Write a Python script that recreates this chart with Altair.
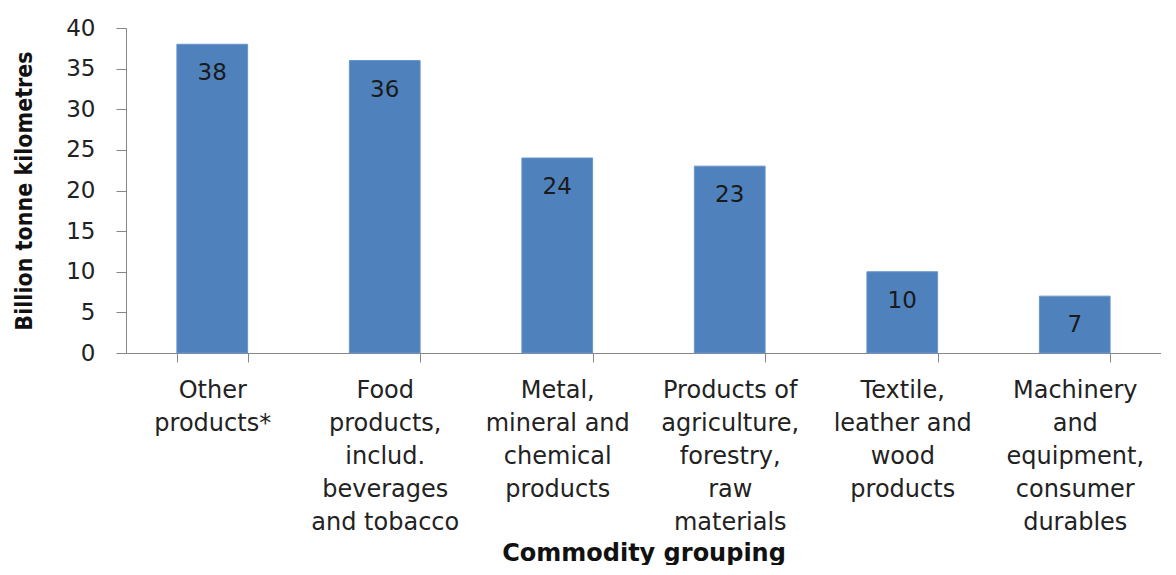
import altair as alt
import pandas as pd

categories = [
    "Other|products*",
    "Food|products,|includ.|beverages|and tobacco",
    "Metal,|mineral and|chemical|products",
    "Products of|agriculture,|forestry,|raw|materials",
    "Textile,|leather and|wood|products",
    "Machinery|and|equipment,|consumer|durables",
]
values = [38, 36, 24, 23, 10, 7]

df = pd.DataFrame({"cat": categories, "val": values})

x = alt.X(
    "cat:N",
    sort=categories,
    scale=alt.Scale(paddingInner=0.59, paddingOuter=0.295),
    axis=alt.Axis(
        title="Commodity grouping",
        labelExpr="split(datum.label, '|')",
        labelAngle=0,
        labelFont="DejaVu Sans",
        labelFontSize=24,
        labelLineHeight=33,
        labelColor="#222222",
        labelPadding=16,
        labelLimit=300,
        tickBand="extent",
        tickSize=9,
        tickColor="#868686",
        domainColor="#868686",
        titleFont="DejaVu Sans",
        titleFontSize=24,
        titleFontWeight="bold",
        titleColor="#111111",
        titlePadding=7,
    ),
)

y = alt.Y(
    "val:Q",
    scale=alt.Scale(domain=[0, 40]),
    axis=alt.Axis(
        title="Billion tonne kilometres",
        values=[0, 5, 10, 15, 20, 25, 30, 35, 40],
        grid=False,
        labelFont="DejaVu Sans",
        labelFontSize=23,
        labelColor="#222222",
        labelPadding=21,
        tickSize=10,
        tickColor="#868686",
        domainColor="#868686",
        titleFont="Liberation Sans Narrow, DejaVu Sans Condensed, Liberation Sans",
        titleFontSize=23,
        titleFontWeight="bold",
        titleColor="#111111",
        titlePadding=29,
    ),
)

bars = alt.Chart(df).mark_bar(color="#4F81BD", stroke="#6A96CC", strokeWidth=1).encode(x=x, y=y)

labels = alt.Chart(df).mark_text(
    font="DejaVu Sans", fontSize=23, color="#1a1a1a", baseline="middle", dy=29
).encode(x=alt.X("cat:N", sort=categories), y="val:Q", text="val:Q")

chart = (
    alt.layer(bars, labels)
    .properties(width=1035, height=325, padding={"top": 9, "left": 5, "right": 0, "bottom": 0})
    .configure_view(stroke=None)
)

chart.save("out.html", embed_options={"renderer": "svg", "actions": False})
